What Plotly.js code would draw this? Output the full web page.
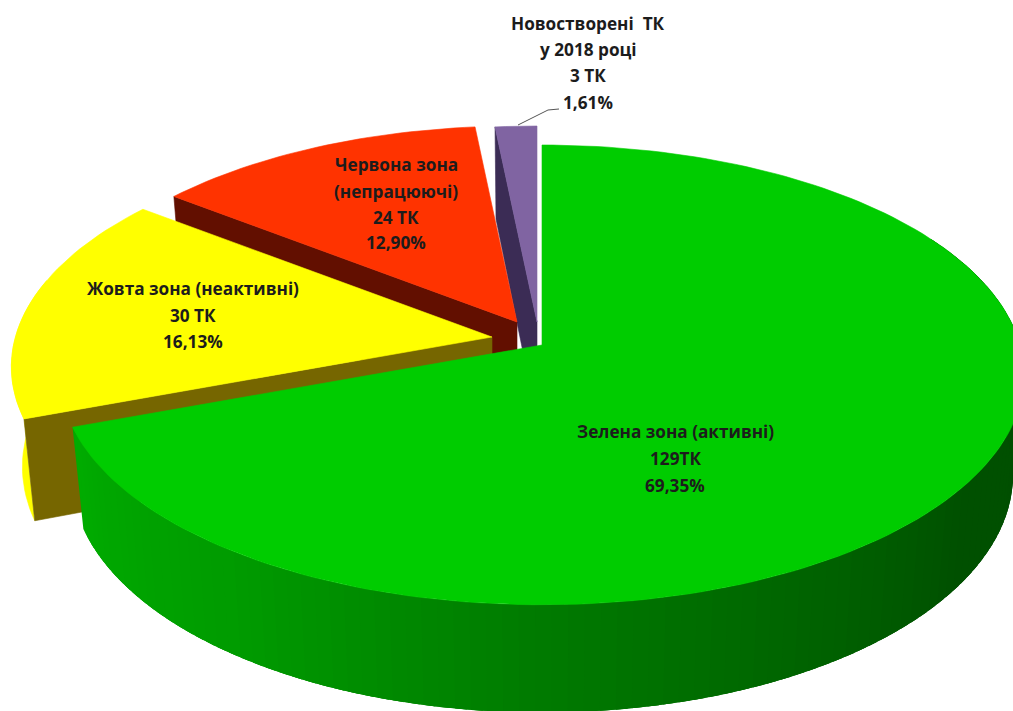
<!DOCTYPE html>
<html><head><meta charset="utf-8">
<script src="https://cdn.plot.ly/plotly-3.0.1.min.js"></script>
<style>html,body{margin:0;padding:0;background:#fff}#c{width:1013px;height:711px}</style>
</head><body><div id="c"></div>
<script>
// Data
const categories = ["Зелена зона (активні)", "Жовта зона (неактивні)", "Червона зона (непрацюючі)", "Новостворені ТК у 2018 році"];
const counts = [129, 30, 24, 3];

// Label lines
const greenLabel  = ["Зелена зона (активні)", "129ТК", "69,35%"];
const yellowLabel = ["Жовта зона (неактивні)", "30 ТК", "16,13%"];
const redLabel    = ["Червона зона", "(непрацюючі)", "24 ТК", "12,90%"];
const purpleLabel = ["Новостворені  ТК", "у 2018 році", "3 ТК", "1,61%"];

// Styles & geometry of the 3D look
const topColors  = ["#00cc00", "#ffff00", "#ff3300", "#8064a2"];
const faceColors = [null, "#766600", "#620f00", "#3b2c55"];
const apexes = [[542,345],[492,337],[517,322],[537,322]];
const scales = [1, 0.997, 0.98, 0.98];
const RX = 478, RY = 226, K = 0.13, DEPTH = 99, SHRINK = 0.977;

const total = counts.reduce((a,b)=>a+b,0);
const rad = d => d*Math.PI/180;
function pt(deg, i, bottom){
  const u = Math.sin(rad(deg)), v = Math.cos(rad(deg)), w = 1 + K*v;
  const s = scales[i]*(bottom?SHRINK:1);
  return [apexes[i][0] + RX*s*u/w, apexes[i][1] - RY*s*v/w + (bottom?DEPTH/w:0)];
}
function poly(points, color, lw){
  return {type:"scatter", mode:"lines", x:points.map(p=>p[0]), y:points.map(p=>p[1]),
    fill:"toself", fillcolor:color, line:{color:color,width:lw===undefined?0.6:lw}, hoverinfo:"skip", showlegend:false};
}
function arc(a,b,i,bottom){
  const n = Math.max(2,Math.ceil(Math.abs(b-a)/1.5)), out=[];
  for(let k=0;k<=n;k++) out.push(pt(a+(b-a)*k/n,i,bottom));
  return out;
}
// slice angular bounds
const bounds=[]; let acc=0;
counts.forEach(c=>{bounds.push([acc,acc+c/total*360]); acc+=c/total*360;});

function wedgeTop(i){ const [a,b]=bounds[i]; return poly([apexes[i],...arc(a,b,i,false),apexes[i]],topColors[i]); }
function cutFace(i){ const [a]=bounds[i];
  return poly([pt(a,i,false),apexes[i],[apexes[i][0],apexes[i][1]+DEPTH],pt(a,i,true),pt(a,i,false)],faceColors[i]); }

function mix(c1,c2,t){ return "rgb("+c1.map((v,j)=>Math.round(v+(c2[j]-v)*t)).join(",")+")"; }
const sideStops=[[60,[0,78,0]],[125,[0,80,0]],[180,[0,122,0]],[215,[0,155,0]],[250,[0,172,0]]];
function sideColor(d){
  for(let j=0;j<sideStops.length-1;j++){
    if(d<=sideStops[j+1][0]){ const t=(d-sideStops[j][0])/(sideStops[j+1][0]-sideStops[j][0]);
      return mix(sideStops[j][1],sideStops[j+1][1],Math.max(0,t)); }
  }
  return mix(sideStops[4][1],sideStops[4][1],0);
}

const traces=[];
traces.push(cutFace(3)); traces.push(wedgeTop(3));
traces.push(cutFace(2)); traces.push(wedgeTop(2));
// yellow outer rim (same colour as its top)
{ const [a,b]=bounds[1]; const e=Math.min(b,285);
  traces.push(poly([...arc(a,e,1,false),...arc(e,a,1,true)],topColors[1])); }
traces.push(cutFace(1)); traces.push(wedgeTop(1));
// green rim: overlapping strips
{ const a=60, b=bounds[0][1], steps=110;
  for(let k=0;k<steps;k++){
    const d0=b-(b-a)*(k+1)/steps;
    const d1=b-(b-a)*k/steps;
    const far=Math.max(a,d0-3);
    traces.push(poly([...arc(far,d1,0,false),...arc(d1,far,0,true)],sideColor((d0+d1)/2),0));
  } }
traces.push(wedgeTop(0));
// leader line of the small slice
traces.push({type:"scatter",mode:"lines",x:[518,530,548,559],y:[125,119,110,109],
  line:{color:"#555555",width:1},hoverinfo:"skip",showlegend:false});

const font={family:"'Open Sans', sans-serif",size:17.2,color:"#1c1c1c",weight:700};
function lines(texts,x,ys){ return texts.map((t,i)=>({x:x,y:ys[i],xref:"x",yref:"y",text:"<b>"+t+"</b>",
  showarrow:false,xanchor:"center",yanchor:"middle",font:font})); }
const annotations=[
  ...lines(greenLabel,675,[431,458,485]),
  ...lines(yellowLabel,193,[288,315,341]),
  ...lines(redLabel,396,[164,191,217,242]),
  ...lines(purpleLabel,588,[23,49,75,102])
];
Plotly.newPlot("c",traces,{
  width:1013,height:711,margin:{l:0,r:0,t:0,b:0},
  paper_bgcolor:"#fff",plot_bgcolor:"#fff",showlegend:false,
  xaxis:{range:[0,1013],visible:false,fixedrange:true},
  yaxis:{range:[711,0],visible:false,fixedrange:true},
  annotations:annotations
},{displayModeBar:false,staticPlot:true});
</script></body></html>
